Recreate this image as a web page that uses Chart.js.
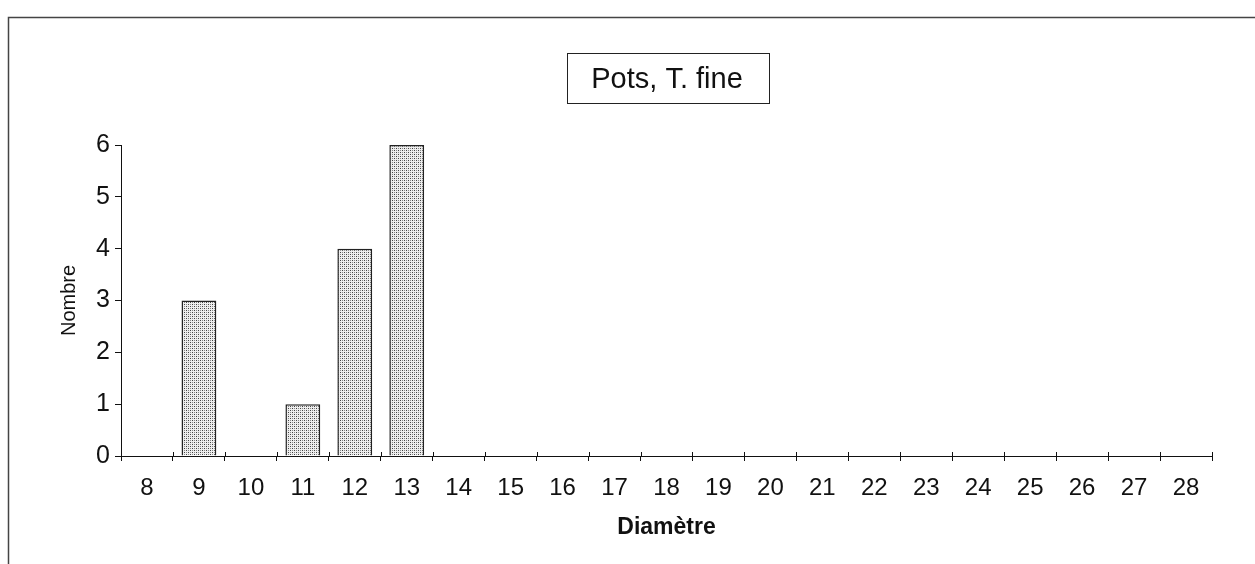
<!DOCTYPE html>
<html>
<head>
<meta charset="utf-8">
<script src="https://cdn.jsdelivr.net/npm/chart.js@4"></script>
<style>
  html, body { margin: 0; padding: 0; background: #fff; }
  #wrap { position: relative; width: 1255px; height: 564px; }
</style>
</head>
<body>
<div id="wrap"><canvas id="barChart" width="1255" height="564"></canvas></div>
<script>
const diameters = ["8", "9", "10", "11", "12", "13", "14", "15", "16", "17", "18",
  "19", "20", "21", "22", "23", "24", "25", "26", "27", "28"];
const counts = [0, 3, 0, 1, 4, 6, 0, 0, 0, 0, 0, 0, 0, 0, 0, 0, 0, 0, 0, 0, 0];
const yTicks = [0, 1, 2, 3, 4, 5, 6];
const chartTitle = "Pots, T. fine";
const xTitle = "Diamètre";
const yTitle = "Nombre";

const FONT = "'Liberation Sans Narrow', 'Arial Narrow', 'Liberation Sans', Arial, sans-serif";

// stippled grey fill like the old print
function makeStipple() {
  const c = document.createElement("canvas");
  c.width = 4;
  c.height = 4;
  const g = c.getContext("2d");
  g.fillStyle = "#eeeeee";
  g.fillRect(0, 0, 4, 4);
  g.fillStyle = "#444";
  g.fillRect(0, 0, 1, 1);
  g.fillRect(2, 2, 1, 1);
  g.fillStyle = "#888";
  g.fillRect(2, 0, 1, 1);
  g.fillRect(0, 2, 1, 1);
  return g.createPattern(c, "repeat");
}

const frameAndTitle = {
  id: "frameAndTitle",
  beforeDraw(chart) {
    const ctx = chart.ctx;
    ctx.save();
    ctx.strokeStyle = "#444";
    ctx.lineWidth = 1.5;
    ctx.beginPath();
    ctx.moveTo(8.5, 564);
    ctx.lineTo(8.5, 17.5);
    ctx.lineTo(1255, 17.5);
    ctx.stroke();

    // boxed title
    ctx.strokeStyle = "#222";
    ctx.lineWidth = 1;
    ctx.strokeRect(567.5, 53.5, 202, 50);
    ctx.fillStyle = "#111";
    ctx.font = "29px " + FONT;
    ctx.textAlign = "center";
    ctx.textBaseline = "alphabetic";
    ctx.fillText(chartTitle, 667, 88);
    ctx.restore();
  },
  afterDatasetsDraw(chart) {
    // x ticks cross the axis: add the part above it
    const x = chart.scales.x;
    const ctx = chart.ctx;
    const half = (x.getPixelForValue(1) - x.getPixelForValue(0)) / 2;
    ctx.save();
    ctx.strokeStyle = "#111";
    ctx.lineWidth = 1;
    ctx.beginPath();
    for (let i = 0; i <= diameters.length; i++) {
      const px = Math.round(x.getPixelForValue(i) - half) + 0.5;
      ctx.moveTo(px, x.top - 4);
      ctx.lineTo(px, x.top);
    }
    ctx.stroke();
    ctx.restore();
  },
};

const ctx = document.getElementById("barChart").getContext("2d");
new Chart(ctx, {
  type: "bar",
  data: {
    labels: diameters,
    datasets: [
      {
        label: yTitle,
        data: counts,
        backgroundColor: makeStipple(),
        borderColor: "#222",
        borderWidth: 1.5,
        borderSkipped: "bottom",
        barPercentage: 0.67,
        categoryPercentage: 1,
      },
    ],
  },
  options: {
    responsive: false,
    animation: false,
    layout: { padding: { top: 145, right: 43, left: 0, bottom: 0 } },
    plugins: { legend: { display: false }, tooltip: { enabled: false } },
    scales: {
      x: {
        afterFit(scale) { scale.height = 108; },
        grid: { drawOnChartArea: false, drawTicks: true, tickLength: 5, color: "#111", offset: true },
        border: { color: "#111", width: 1 },
        ticks: { color: "#111", font: { family: FONT, size: 24 }, padding: 13, maxRotation: 0, autoSkip: false },
        title: { display: true, text: xTitle, color: "#111", font: { family: FONT, size: 23, weight: "bold" }, padding: { top: 0, bottom: 23 } },
      },
      y: {
        min: yTicks[0],
        max: yTicks[yTicks.length - 1],
        afterFit(scale) { scale.width = 121; },
        afterBuildTicks(scale) { scale.ticks = yTicks.map((v) => ({ value: v })); },
        grid: { drawOnChartArea: false, drawTicks: true, tickLength: 6, color: "#111" },
        border: { color: "#111", width: 1 },
        ticks: { color: "#111", font: { family: FONT, size: 25 }, padding: 5 },
        title: { display: true, text: yTitle, color: "#111", font: { family: FONT, size: 20 }, padding: { top: 57, bottom: 0 } },
      },
    },
  },
  plugins: [frameAndTitle],
});
</script>
</body>
</html>
